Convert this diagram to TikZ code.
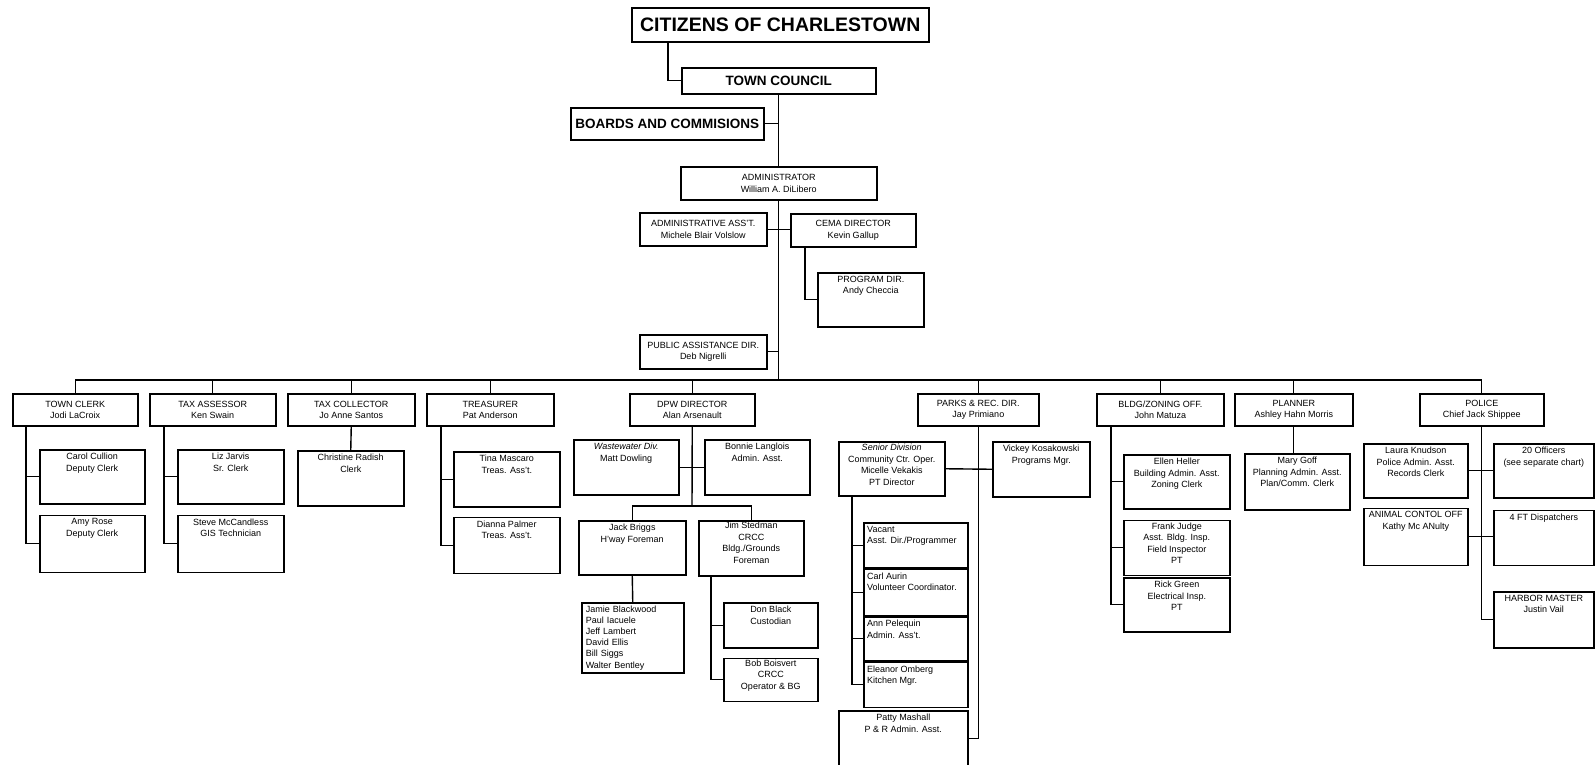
\documentclass[tikz,border=0pt]{standalone}
\usepackage{fontspec}
\setmainfont{Liberation Sans}
\usetikzlibrary{positioning}

\tikzset{
	office/.style={draw, line width=1.5pt, inner sep=2pt, align=center, anchor=north west, font=\fontsize{9}{11.5}\selectfont},
	dims/.style 2 args={minimum width=#1pt, minimum height=#2pt},
	bighead/.style={office, font=\fontsize{13.5}{16}\selectfont\bfseries},
	toptext/.style={anchor=north, align=center, inner sep=4pt, font=\fontsize{9}{11.5}\selectfont},
	lefttext/.style={toptext, anchor=north west, align=left},
	wire/.style={line width=1.4pt},
}

\begin{document}
\begin{tikzpicture}[x=1pt, y=-1pt]
	\path[use as bounding box, clip] (0,0) rectangle (1595,764);

	% top of the chart
	\node[bighead, dims={297}{34}, font=\fontsize{19.5}{22}\selectfont\bfseries] (citizens) at (631,7) {CITIZENS OF CHARLESTOWN};
	\node[bighead, dims={194}{26}] (council) at (681,67) {TOWN COUNCIL};
	\node[bighead, dims={193}{32}] (boards) at (570,107) {BOARDS AND COMMISIONS};
	\node[office, dims={196}{33}] (admin) at (680,166) {ADMINISTRATOR\\William A. DiLibero};
	\node[office, dims={127}{33}] (adminasst) at (639,212) {ADMINISTRATIVE ASS'T.\\Michele Blair Volslow};
	\node[office, dims={125}{33}] (cema) at (790,213) {CEMA DIRECTOR\\Kevin Gallup};
	\node[office, dims={106}{54}, label={[toptext]north:{PROGRAM DIR.\\Andy Checcia}}] (progdir) at (817,272) {};
	\node[office, dims={127}{34}] (pubassist) at (639,334) {PUBLIC ASSISTANCE DIR.\\Deb Nigrelli};
	\coordinate (bus) at (0,380);

	\draw[wire] ([xshift=37pt]citizens.south west) |- (council.west);
	\draw[wire] (council.south) -- (admin.north);
	\draw[wire] (boards.east) -- (boards.east -| council.south);
	\draw[wire] (adminasst.east) -- (adminasst.east -| cema.west);
	\draw[wire] ([xshift=15pt]cema.south west) |- (progdir.west);
	\draw[wire] (pubassist.east) -- (pubassist.east -| admin.south);
	\draw[wire] (admin.south) -- (admin.south |- bus);

	% departments
	\node[office, dims={125}{32}] (clerk) at (12,393) {TOWN CLERK\\Jodi LaCroix};
	\node[office, dims={126}{32}] (taxass) at (149,393) {TAX ASSESSOR\\Ken Swain};
	\node[office, dims={127}{32}] (taxcoll) at (287,393) {TAX COLLECTOR\\Jo Anne Santos};
	\node[office, dims={127}{32}] (treas) at (426,393) {TREASURER\\Pat Anderson};
	\node[office, dims={125}{32}] (dpw) at (629,393) {DPW DIRECTOR\\Alan Arsenault};
	\node[office, dims={121}{32}] (parks) at (917,393) {PARKS \& REC. DIR.\\Jay Primiano};
	\node[office, dims={127}{32}] (bldg) at (1096,393) {BLDG/ZONING OFF.\\John Matuza};
	\node[office, dims={118}{32}] (planner) at (1234,393) {PLANNER\\Ashley Hahn Morris};
	\node[office, dims={124}{32}] (police) at (1419,393) {POLICE\\Chief Jack Shippee};

	\draw[wire] (clerk.north |- bus) -- (police.north |- bus);
	\draw[wire] (clerk.north) -- (clerk.north |- bus);
	\draw[wire] (taxass.north) -- (taxass.north |- bus);
	\draw[wire] (taxcoll.north) -- (taxcoll.north |- bus);
	\draw[wire] (treas.north) -- (treas.north |- bus);
	\draw[wire] (dpw.north) -- (dpw.north |- bus);
	\draw[wire] (parks.north) -- (parks.north |- bus);
	\draw[wire] (bldg.north) -- (bldg.north |- bus);
	\draw[wire] (planner.north) -- (planner.north |- bus);
	\draw[wire] (police.north) -- (police.north |- bus);

	% clerk, assessor, collector, treasurer
	\node[office, dims={105}{54}, label={[toptext]north:{Carol Cullion\\Deputy Clerk}}] (carol) at (39,449) {};
	\node[office, dims={105}{57}, below=10pt of carol, label={[toptext]north:{Amy Rose\\Deputy Clerk}}] (amy) {};
	\draw[wire] ([xshift=14pt]clerk.south west) |- (carol.west);
	\draw[wire] ([xshift=14pt]clerk.south west) |- (amy.west);

	\node[office, dims={106}{54}, label={[toptext]north:{Liz Jarvis\\Sr. Clerk}}] (liz) at (177,449) {};
	\node[office, dims={106}{57}, below=10pt of liz, label={[toptext]north:{Steve McCandless\\GIS Technician}}] (steve) {};
	\draw[wire] ([xshift=15pt]taxass.south west) |- (liz.west);
	\draw[wire] ([xshift=15pt]taxass.south west) |- (steve.west);

	\node[office, dims={106}{55}, label={[toptext]north:{Christine Radish\\Clerk}}] (christine) at (297,450) {};
	\draw[wire] (taxcoll.south) -- (christine.north);

	\node[office, dims={106}{55}, label={[toptext]north:{Tina Mascaro\\Treas. Ass't.}}] (tina) at (453,451) {};
	\node[office, dims={106}{56}, below=9pt of tina, label={[toptext]north:{Dianna Palmer\\Treas. Ass't.}}] (dianna) {};
	\draw[wire] ([xshift=15pt]treas.south west) |- (tina.west);
	\draw[wire] ([xshift=15pt]treas.south west) |- (dianna.west);

	% public works
	\node[office, dims={105}{55}, label={[toptext]north:{{\itshape Wastewater Div.}\\Matt Dowling}}] (wastewater) at (573,439) {};
	\node[office, dims={105}{55}, label={[toptext]north:{Bonnie Langlois\\Admin. Asst.}}] (bonnie) at (704,439) {};
	\node[office, dims={107}{54}, label={[toptext]north:{Jack Briggs\\H'way Foreman}}] (jack) at (578,520) {};
	\node[office, dims={105}{55}, label={[toptext, inner sep=2pt]north:{Jim Stedman\\CRCC\\Bldg./Grounds\\Foreman}}] (jim) at (698,520) {};
	\node[office, dims={102}{70}, text width=94pt, inner xsep=4pt, inner ysep=1pt, align=left, font=\fontsize{9}{11.2}\selectfont] (crew) at (581,602) {Jamie Blackwood\\Paul Iacuele\\Jeff Lambert\\David Ellis\\Bill Siggs\\Walter Bentley};
	\node[office, dims={94}{45}, label={[toptext]north:{Don Black\\Custodian}}] (donblack) at (723,602) {};
	\node[office, dims={94}{43}, below=9pt of donblack, label={[toptext, inner sep=2pt]north:{Bob Boisvert\\CRCC\\Operator \& BG}}] (bob) {};
	\coordinate (dpwsplit) at (692,506);

	\draw[wire] (dpw.south) -- (dpwsplit);
	\draw[wire] (wastewater.east) -- (bonnie.west);
	\draw[wire] (jack.north) |- (dpwsplit) -| (jim.north);
	\draw[wire] (jack.south) -- (crew.north);
	\draw[wire] ([xshift=13pt]jim.south west) |- (donblack.west);
	\draw[wire] ([xshift=13pt]jim.south west) |- (bob.west);

	% parks and recreation
	\node[office, dims={106}{54}, label={[toptext, inner sep=3pt]north:{{\itshape Senior Division}\\Community Ctr. Oper.\\Micelle Vekakis\\PT Director}}] (senior) at (838,441) {};
	\node[office, dims={97}{55}, label={[toptext]north:{Vickey Kosakowski\\Programs Mgr.}}] (vickey) at (992,441) {};
	\node[office, dims={104}{45}, label={[lefttext]north west:{Vacant\\Asst. Dir./Programmer}}] (vacant) at (863,522) {};
	\node[office, dims={104}{46}, below=0pt of vacant, label={[lefttext]north west:{Carl Aurin\\Volunteer Coordinator.}}] (carl) {};
	\node[office, dims={104}{44}, below=0pt of carl, label={[lefttext]north west:{Ann Pelequin\\Admin. Ass't.}}] (ann) {};
	\node[office, dims={104}{45}, below=0pt of ann, label={[lefttext]north west:{Eleanor Omberg\\Kitchen Mgr.}}] (eleanor) {};
	\node[office, dims={129}{56}, label={[toptext]north:{Patty Mashall\\P \& R Admin. Asst.}}] (patty) at (838,710) {};

	\draw[wire] (parks.south) |- (patty.east);
	\draw[wire] (senior.east) -- (vickey.west);
	\draw[wire] ([xshift=14pt]senior.south west) |- (vacant.west);
	\draw[wire] ([xshift=14pt]senior.south west) |- (carl.west);
	\draw[wire] ([xshift=14pt]senior.south west) |- (ann.west);
	\draw[wire] ([xshift=14pt]senior.south west) |- (eleanor.west);

	% building and planning
	\node[office, dims={106}{54}, label={[toptext]north:{Ellen Heller\\Building Admin. Asst.\\Zoning Clerk}}] (ellen) at (1123,454) {};
	\node[office, dims={106}{55}, below=10pt of ellen, label={[toptext, inner sep=3pt]north:{Frank Judge\\Asst. Bldg. Insp.\\Field Inspector\\PT}}] (frank) {};
	\node[office, dims={106}{54}, below=1pt of frank, label={[toptext]north:{Rick Green\\Electrical Insp.\\PT}}] (rick) {};
	\node[office, dims={105}{56}, label={[toptext]north:{Mary Goff\\Planning Admin. Asst.\\Plan/Comm. Clerk}}] (mary) at (1244,453) {};

	\draw[wire] ([xshift=15pt]bldg.south west) |- (ellen.west);
	\draw[wire] ([xshift=15pt]bldg.south west) |- (frank.west);
	\draw[wire] ([xshift=15pt]bldg.south west) |- (rick.west);
	\draw[wire] (planner.south) -- (planner.south |- mary.north);

	% police
	\node[office, dims={104}{54}, label={[toptext]north:{Laura Knudson\\Police Admin. Asst.\\Records Clerk}}] (laura) at (1363,443) {};
	\node[office, dims={100}{54}, label={[toptext]north:{20 Officers\\(see separate chart)}}] (officers) at (1493,443) {};
	\node[office, dims={104}{57}, below=9pt of laura, label={[toptext]north:{ANIMAL CONTOL OFF\\Kathy Mc ANulty}}] (animal) {};
	\node[office, dims={100}{55}, below=11pt of officers, label={[toptext]north:{4 FT Dispatchers}}] (dispatch) {};
	\node[office, dims={100}{56}, below=25pt of dispatch, label={[toptext]north:{HARBOR MASTER\\Justin Vail}}] (harbor) {};

	\draw[wire] (police.south) |- (harbor.west);
	\draw[wire] (laura.east) -- (officers.west);
	\draw[wire] (animal.east) -- (animal.east -| dispatch.west);
\end{tikzpicture}
\end{document}
